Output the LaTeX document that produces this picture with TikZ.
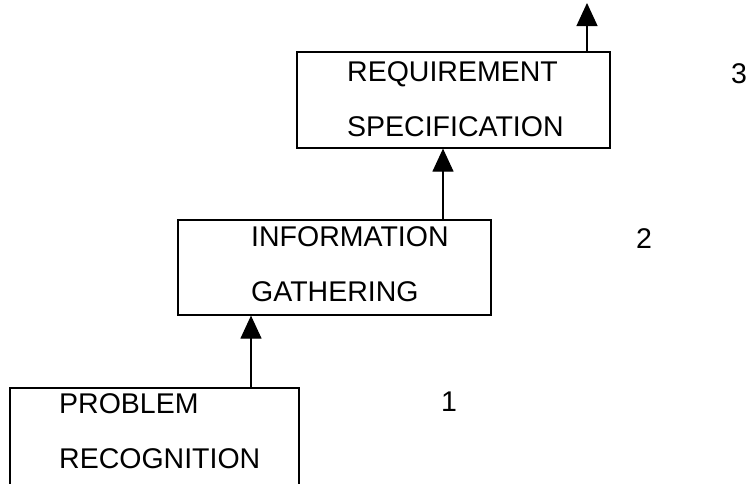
\documentclass[tikz,border=0pt]{standalone}
\usepackage{fontspec}
\setmainfont{Liberation Sans}
\usepackage{tikz}
\usetikzlibrary{arrows.meta}

\begin{document}
\begin{tikzpicture}[x=1pt,y=-1pt,
          every node/.style={font=\fontsize{28.5}{55}\selectfont},
          box/.style={draw, line width=1.2pt, inner sep=0pt},
          txt/.style={anchor=north west, align=left, inner sep=0pt},
          ar/.style={-{Triangle[width=21pt,length=23pt]}, line width=1.2pt}]
        \clip (0,0) rectangle (747,483);
        % boxes
        \node[box, minimum width=313pt, minimum height=96pt] (b3) at (453.5,100) {};
        \node[box, minimum width=313pt, minimum height=95pt] (b2) at (334.5,267.5) {};
        \node[box, minimum width=289pt, minimum height=122pt] (b1) at (154.5,449) {};
        % texts
        \node[txt] (t3) at (347,61) {REQUIREMENT\\SPECIFICATION};
        \node[txt] (t2) at (251,226) {INFORMATION\\GATHERING};
        \node[txt] (t1) at (59,393) {PROBLEM\\RECOGNITION};
        \node[txt] (n3) at (731,63) {3};
        \node[txt] (n2) at (636,228) {2};
        \node[txt] (n1) at (441,392) {1};
        % arrows
        \coordinate (c1) at (251,0);
        \coordinate (c2) at (443,0);
        \coordinate (c3) at (587,3);
        \draw[ar] (b1.north -| c1) -- (b2.south -| c1);
        \draw[ar] (b2.north -| c2) -- (b3.south -| c2);
        \draw[ar] (b3.north -| c3) -- (c3);
      \end{tikzpicture}
\end{document}
